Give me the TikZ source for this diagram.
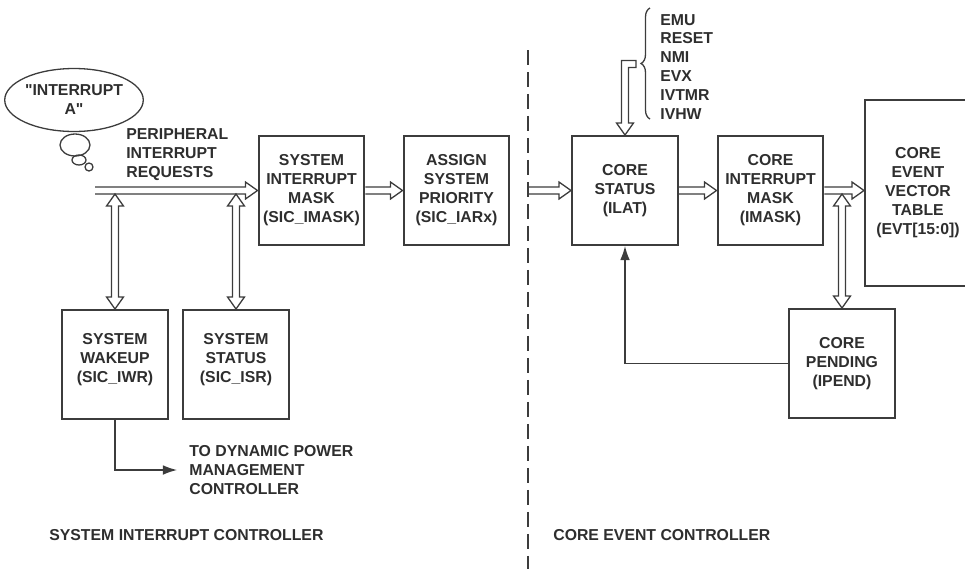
\documentclass[tikz,border=0pt]{standalone}
\usepackage{fontspec}
\setmainfont{Liberation Sans}
\usetikzlibrary{calc,arrows.meta,shapes.geometric,decorations.pathreplacing}
\definecolor{ink}{HTML}{3C3C3C}
\definecolor{txt}{HTML}{2E2E2E}
\def\hw{2pt}\def\hh{4.8pt}\def\hl{6.8pt}
% hollow arrow to the right, tip at #2
\def\harrow(#1)(#2){\draw[holw] let \p1=(#1), \p2=(#2) in (\x1,\y1+\hw) -- (\x2-\hl,\y1+\hw) -- (\x2-\hl,\y1+\hh) -- (\x2,\y1) -- (\x2-\hl,\y1-\hh) -- (\x2-\hl,\y1-\hw) -- (\x1,\y1-\hw);}
% hollow two-headed arrow, hanging below shaft #1 down to #2
\def\varrow(#1)(#2){\draw[holw] let \p1=(#1), \p2=(#2) in (\x2-\hw,\y1-\hw-\hl) -- (\x2-\hh,\y1-\hw-\hl) -- (\x2,\y1-\hw) -- (\x2+\hh,\y1-\hw-\hl) -- (\x2+\hw,\y1-\hw-\hl) -- (\x2+\hw,\y2+\hl) -- (\x2+\hh,\y2+\hl) -- (\x2,\y2) -- (\x2-\hh,\y2+\hl) -- (\x2-\hw,\y2+\hl) -- cycle;}
\tikzset{
  every node/.style={font=\fontsize{9}{10.8}\selectfont\bfseries, text=txt},
  regbox/.style={draw=ink, line width=0.04cm, minimum width=2.12cm, minimum height=2.18cm, align=center, inner sep=0pt},
  holw/.style={draw=ink, line width=0.026cm, line join=miter},
  thin/.style={draw=ink, line width=0.026cm, -{Latex[length=8pt,width=5.5pt]}},
  note/.style={anchor=west, align=left, inner sep=0pt}
}
\begin{document}
\begin{tikzpicture}[x=0.02cm, y=-0.02cm]
	%%%%% frame %%%%%
	\useasboundingbox (0,0) rectangle (965,569);
	
	\node[regbox] (mask) at (311.5,190.5) {SYSTEM\\INTERRUPT\\MASK\\(SIC\_IMASK)};
	\node[regbox] (prio) at (456.5,190.5) {ASSIGN\\SYSTEM\\PRIORITY\\(SIC\_IARx)};
	\node[regbox] (st) at (625,190.5) {CORE\\STATUS\\(ILAT)};
	\node[regbox] (imask) at (770.5,190.5) {CORE\\INTERRUPT\\MASK\\(IMASK)};
	\node[regbox, minimum height=3.72cm] (evt) at (918,193) {CORE\\EVENT\\VECTOR\\TABLE\\(EVT[15:0])};
	\node[regbox] (pend) at (842,363.5) {CORE\\PENDING\\(IPEND)};
	\node[regbox] (wake) at (115,364.5) {SYSTEM\\WAKEUP\\(SIC\_IWR)\\[-0.1cm]};
	\node[regbox] (sstat) at (236,364.5) {SYSTEM\\STATUS\\(SIC\_ISR)\\[-0.1cm]};
	
	\node[ellipse, draw=ink, line width=0.026cm, minimum width=2.64cm, minimum height=1.26cm, inner sep=0pt, align=center] (thought) at (74,100) {\textquotedbl INTERRUPT\\A\textquotedbl};
	\draw[ink, line width=0.026cm] (75,145) ellipse [x radius=0.3cm, y radius=0.22cm];
	\draw[ink, line width=0.026cm] (79,160) ellipse [x radius=0.14cm, y radius=0.1cm];
	\draw[ink, line width=0.026cm] (89,167) circle [radius=0.08cm];
	
	\node[note] (periph) at (126,154.5) {PERIPHERAL\\INTERRUPT\\REQUESTS};
	\node[note] (evlist) at (660,67) {EMU\\RESET\\NMI\\EVX\\IVTMR\\IVHW};
	\node[note, inner xsep=0.24cm] (dpm) at (177,470) {TO DYNAMIC POWER\\MANAGEMENT\\CONTROLLER};
	\node[note] (sicname) at (49,535) {SYSTEM INTERRUPT CONTROLLER};
	\node[note] (cecname) at (553,535) {CORE EVENT CONTROLLER};
	
	\coordinate (bus) at (95,190.5);
	\coordinate (cut) at (529,190.5);
	\coordinate (brtip) at (641,64);
	
	% divider
	\draw[ink, line width=0.024cm, dash pattern=on 0.3cm off 0.14cm] (528,50) -- (528,569);
	\draw[ink, line width=0.026cm, decorate, decoration={brace, amplitude=0.18cm}] (650,119) -- (650,8);
	
	\harrow(bus)(mask.west)
	\harrow(mask.east)(prio.west)
	\harrow(cut)(st.west)
	\harrow(st.east)(imask.west)
	\harrow(imask.east)(evt.west |- imask.east)
	\varrow(bus)(wake.north)
	\varrow(bus)(sstat.north)
	\varrow(imask.east)(pend.north)
	\draw[holw] let \p1=(brtip), \p2=(st.north) in (\x1-2.8pt,\y1+\hw) -- (\x2-\hw,\y1+\hw) -- (\x2-\hw,\y2+\hl) -- (\x2-\hh,\y2+\hl) -- (\x2,\y2) -- (\x2+\hh,\y2+\hl) -- (\x2+\hw,\y2+\hl) -- (\x2+\hw,\y1-\hw) -- (\x1-2.8pt,\y1-\hw) -- cycle;
	
	\draw[thin] (pend.west) -| (st.south);
	\draw[thin] (wake.south) |- (dpm.west);
\end{tikzpicture}
\end{document}
